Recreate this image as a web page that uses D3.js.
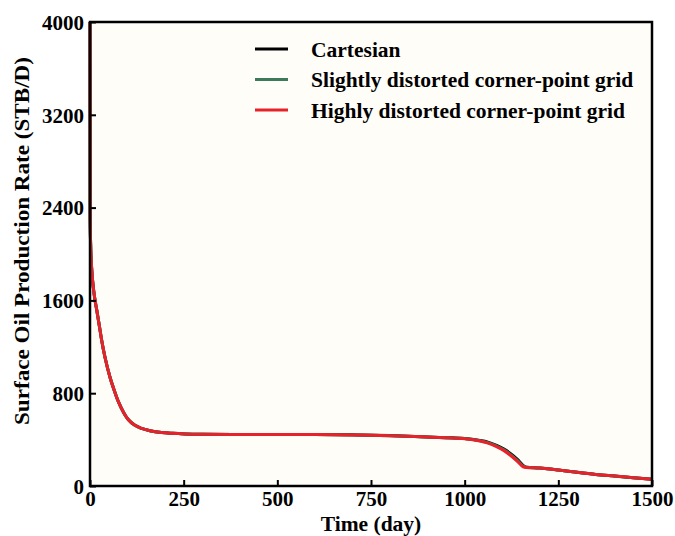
<!DOCTYPE html>
<html>
<head>
<meta charset="utf-8">
<script src="https://cdn.jsdelivr.net/npm/d3@7"></script>
<style>
  body { margin: 0; background: #fff; }
  text { font-family: "Liberation Serif", "Times New Roman", serif; font-weight: bold; }
</style>
</head>
<body>
<div id="chart"></div>
<script>
// time axis (days)
const days = [0, 0.5, 2, 5, 10, 18, 25, 31, 40, 53, 65, 76, 90, 102, 120, 138, 160, 191, 220, 254,
  300, 400, 500, 600, 700, 800, 900, 950, 1000, 1041, 1060, 1085, 1105, 1121, 1140, 1156, 1165,
  1200, 1250, 1300, 1350, 1400, 1450, 1500];

// surface oil rate (STB/D) per grid type
const cartesian = [4000, 2300, 2050, 1850, 1680, 1517, 1380, 1259, 1110, 942, 822, 725, 632, 573, 523, 496, 477, 461, 454, 449,
  446, 444, 443, 443, 441, 435, 423, 417, 410, 392, 380, 350, 318, 283, 232, 178, 162,
  155, 138, 118, 100, 86, 72, 59];
const slightly = [4000, 2300, 2050, 1850, 1680, 1517, 1380, 1259, 1110, 942, 822, 725, 632, 573, 523, 496, 477, 461, 454, 449,
  446, 444, 443, 443, 440, 434, 422, 416, 409, 390, 376, 345, 312, 275, 223, 172, 161,
  155, 138, 118, 100, 86, 72, 58];
const highly = [4000, 2300, 2050, 1850, 1680, 1517, 1380, 1259, 1110, 942, 822, 725, 632, 573, 523, 496, 477, 461, 454, 449,
  446, 444, 443, 443, 440, 434, 422, 416, 408, 388, 372, 339, 305, 267, 215, 166, 160,
  155, 138, 118, 100, 86, 72, 58];

const xTicks = [0, 250, 500, 750, 1000, 1250, 1500];
const yTicks = [0, 800, 1600, 2400, 3200, 4000];

const seriesNames = ["Cartesian", "Slightly distorted corner-point grid", "Highly distorted corner-point grid"];
const seriesColors = ["#000000", "#3d7a5a", "#e8222b"];
const seriesValues = [cartesian, slightly, highly];

const W = 675, H = 536;
const margin = {top: 22, right: 23, bottom: 50, left: 90};
const width = W - margin.left - margin.right;
const height = H - margin.top - margin.bottom;

const svg = d3.select("#chart").append("svg")
  .attr("width", W).attr("height", H);

const g = svg.append("g")
  .attr("transform", "translate(" + margin.left + "," + margin.top + ")");

const x = d3.scaleLinear().domain([0, 1500]).range([0, width]);
const y = d3.scaleLinear().domain([0, 4000]).range([height, 0]);

g.append("rect")
  .attr("width", width).attr("height", height)
  .attr("fill", "#fffdf8");

const line = d3.line()
  .x(d => x(d[0]))
  .y(d => y(d[1]))
  .curve(d3.curveMonotoneX);

seriesValues.forEach((vals, i) => {
  g.append("path")
    .datum(days.map((t, j) => [t, vals[j]]))
    .attr("fill", "none")
    .attr("stroke", seriesColors[i])
    .attr("stroke-width", 3)
    .attr("d", line);
});

// axes with inward ticks
const xAxis = g.append("g")
  .attr("transform", "translate(0," + height + ")")
  .call(d3.axisBottom(x).tickValues(xTicks).tickFormat(d3.format("d"))
    .tickSize(-6).tickPadding(5).tickSizeOuter(0));
const yAxis = g.append("g")
  .call(d3.axisLeft(y).tickValues(yTicks).tickFormat(d3.format("d"))
    .tickSize(-6).tickPadding(6).tickSizeOuter(0));

[xAxis, yAxis].forEach(a => {
  a.select(".domain").remove();
  a.selectAll("line").attr("stroke", "#000").attr("stroke-width", 2);
  a.selectAll("text")
    .attr("fill", "#000")
    .style("font-size", "21px")
    .style("font-family", "'Liberation Serif', serif")
    .style("font-weight", "bold");
});
yAxis.selectAll("text").attr("dy", "0.35em");

// frame
g.append("rect")
  .attr("width", width).attr("height", height)
  .attr("fill", "none")
  .attr("stroke", "#000")
  .attr("stroke-width", 2.5);

// legend
const legend = g.append("g").attr("transform", "translate(165,27)");
seriesNames.forEach((name, i) => {
  const row = legend.append("g").attr("transform", "translate(0," + (i * 30.5) + ")");
  row.append("line")
    .attr("x1", 0).attr("x2", 33)
    .attr("stroke", seriesColors[i]).attr("stroke-width", 3);
  row.append("text")
    .attr("x", 56).attr("dy", "0.35em")
    .style("font-size", "21.5px")
    .text(name);
});

// axis titles
svg.append("text")
  .attr("x", margin.left + width / 2).attr("y", 531)
  .attr("text-anchor", "middle")
  .style("font-size", "21.5px")
  .text("Time (day)");

svg.append("text")
  .attr("transform", "translate(29," + (margin.top + height / 2 - 13) + ") rotate(-90)")
  .attr("text-anchor", "middle")
  .style("font-size", "21px")
  .attr("textLength", 368)
  .attr("lengthAdjust", "spacingAndGlyphs")
  .text("Surface Oil Production Rate (STB/D)");
</script>
</body>
</html>
